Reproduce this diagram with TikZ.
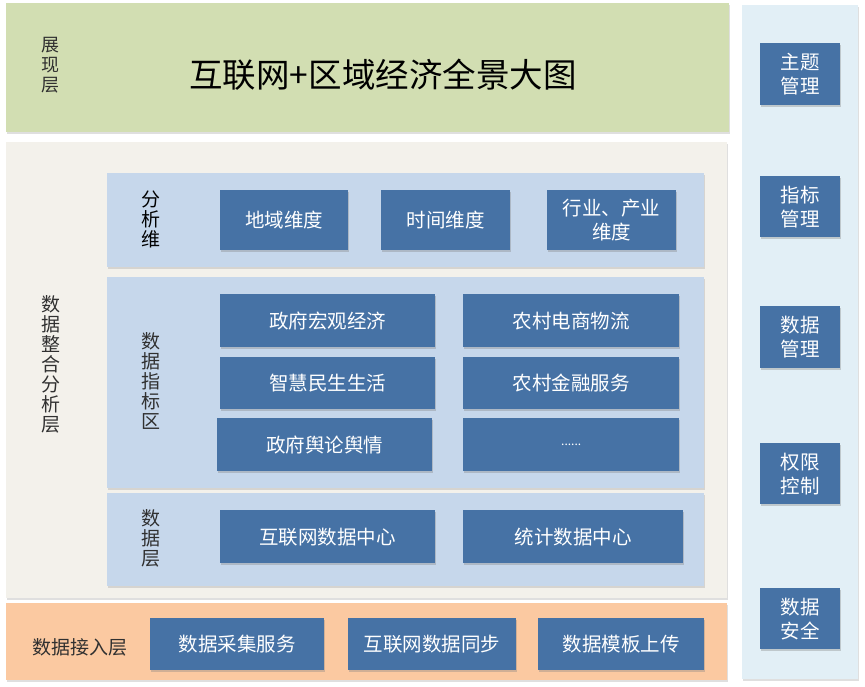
\documentclass[tikz,border=0pt]{standalone}
\usepackage{fontspec}
\setmainfont{Noto Sans CJK SC}
\usetikzlibrary{shadows}
\definecolor{greenbg}{HTML}{D2DEB2}
\definecolor{beigebg}{HTML}{F3F1EB}
\definecolor{orangebg}{HTML}{FBC9A1}
\definecolor{bluebg}{HTML}{C6D7EB}
\definecolor{sidebg}{HTML}{E2EFF6}
\definecolor{darkbox}{HTML}{4672A5}
\definecolor{labeltext}{HTML}{303030}
\tikzset{
  panel/.style={anchor=north west, inner sep=0pt, draw=none,
    drop shadow={shadow xshift=0.8pt, shadow yshift=-1.5pt, opacity=0.25}},
  dbox/.style={anchor=north west, inner sep=0pt, fill=darkbox, text=white,
    align=center, font=\fontsize{19.5}{24}\selectfont,
    drop shadow={shadow xshift=1pt, shadow yshift=-1.5pt, opacity=0.35}},
  vlabel/.style={align=center, text=labeltext, font=\fontsize{19}{20}\selectfont, inner sep=0pt},
}
\begin{document}
\begin{tikzpicture}[x=1pt, y=-1pt]
\useasboundingbox (0,0) rectangle (865,687);
% panels
\node[panel, fill=greenbg, minimum width=723pt, minimum height=129pt] (show) at (6,3) {};
\node[panel, fill=sidebg, minimum width=116pt, minimum height=674pt] (side) at (742,5) {};
\node[panel, fill=beigebg, minimum width=721pt, minimum height=456pt] (integ) at (6,142) {};
\node[panel, fill=orangebg, minimum width=721pt, minimum height=77pt] (access) at (6,603) {};
\node[panel, fill=bluebg, minimum width=597pt, minimum height=94pt] (dimp) at (107,173) {};
\node[panel, fill=bluebg, minimum width=597pt, minimum height=211pt] (indp) at (107,277) {};
\node[panel, fill=bluebg, minimum width=597pt, minimum height=93pt] (datap) at (107,493) {};
% labels
\node[vlabel, font=\fontsize{18}{20}\selectfont] (lshow) at (50,65) {展\\现\\层};
\node[font=\fontsize{33.5}{38}\selectfont, text=black, inner sep=0pt] (title) at (383,75) {互联网+区域经济全景大图};
\node[vlabel] (linteg) at (51,364) {数\\据\\整\\合\\分\\析\\层};
\node[vlabel, text=black] (ldim) at (151,219) {分\\析\\维};
\node[vlabel] (lind) at (151,381) {数\\据\\指\\标\\区};
\node[vlabel] (ldata) at (151,538) {数\\据\\层};
\node[vlabel] (lacc) at (80,647) {数据接入层};
% dimension boxes
\node[dbox, minimum width=128pt, minimum height=60pt] (dy1) at (220,190) {地域维度};
\node[dbox, minimum width=129pt, minimum height=60pt] (dy2) at (381,190) {时间维度};
\node[dbox, minimum width=129pt, minimum height=60pt] (dy3) at (547,190) {行业、产业\\维度};
% indicator boxes
\node[dbox, minimum width=215pt, minimum height=53pt] (i1) at (220,294) {政府宏观经济};
\node[dbox, minimum width=215pt, minimum height=52pt] (i2) at (220,357) {智慧民生生活};
\node[dbox, minimum width=215pt, minimum height=53pt] (i3) at (217,418) {政府舆论舆情};
\node[dbox, minimum width=216pt, minimum height=53pt] (i4) at (463,294) {农村电商物流};
\node[dbox, minimum width=216pt, minimum height=52pt] (i5) at (463,357) {农村金融服务};
\node[dbox, minimum width=216pt, minimum height=53pt, font=\fontsize{12}{14}\selectfont] (i6) at (463,418) {......};
% data layer boxes
\node[dbox, minimum width=215pt, minimum height=53pt] (d1) at (220,510) {互联网数据中心};
\node[dbox, minimum width=220pt, minimum height=53pt] (d2) at (463,510) {统计数据中心};
% access boxes
\node[dbox, minimum width=174pt, minimum height=52pt] (a1) at (150,618) {数据采集服务};
\node[dbox, minimum width=168pt, minimum height=52pt] (a2) at (348,618) {互联网数据同步};
\node[dbox, minimum width=166pt, minimum height=52pt] (a3) at (538,618) {数据模板上传};
% side boxes
\node[dbox, minimum width=80pt, minimum height=62pt] (r1) at (760,43) {主题\\管理};
\node[dbox, minimum width=80pt, minimum height=61pt] (r2) at (760,176) {指标\\管理};
\node[dbox, minimum width=80pt, minimum height=62pt] (r3) at (760,306) {数据\\管理};
\node[dbox, minimum width=80pt, minimum height=61pt] (r4) at (760,443) {权限\\控制};
\node[dbox, minimum width=80pt, minimum height=61pt] (r5) at (760,588) {数据\\安全};
\end{tikzpicture}
\end{document}
